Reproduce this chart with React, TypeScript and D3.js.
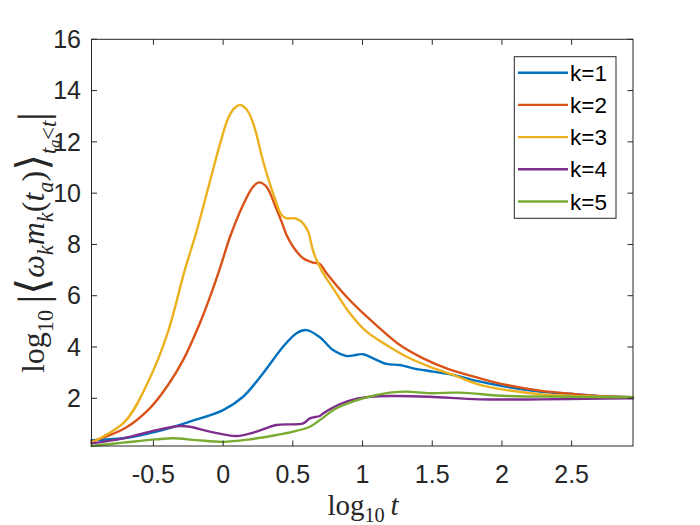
import * as d3 from 'd3'

// axis setup
const xDomain: [number, number] = [-0.944, 2.94]
const yDomain: [number, number] = [0.14, 16]
const xTicks = [-0.5, 0, 0.5, 1, 1.5, 2, 2.5]
const yTicks = [2, 4, 6, 8, 10, 12, 14, 16]

const seriesNames = ['k=1', 'k=2', 'k=3', 'k=4', 'k=5']
const seriesColors = ['#0072BD', '#D95319', '#EDB120', '#7E2F8E', '#77AC30']

type Pt = [number, number]

const k1: Pt[] = [
  [-0.944, 0.37], [-0.717, 0.44], [-0.478, 0.7], [-0.239, 1.09], [0.0, 1.54],
  [0.143, 2.06], [0.287, 2.98], [0.43, 4.01], [0.527, 4.54], [0.598, 4.66],
  [0.694, 4.38], [0.789, 3.88], [0.885, 3.65], [0.96, 3.7], [1.004, 3.72],
  [1.076, 3.56], [1.172, 3.34], [1.268, 3.3], [1.363, 3.17], [1.507, 3.04],
  [1.65, 2.91], [1.793, 2.71], [2.033, 2.45], [2.272, 2.26], [2.511, 2.17],
  [2.72, 2.08], [2.94, 2.04],
]

const k2: Pt[] = [
  [-0.944, 0.31], [-0.705, 0.83], [-0.526, 1.61], [-0.395, 2.52], [-0.287, 3.49],
  [-0.167, 4.93], [-0.072, 6.29], [-0.004, 7.39], [0.048, 8.27], [0.143, 9.54],
  [0.215, 10.25], [0.258, 10.42], [0.311, 10.25], [0.371, 9.54], [0.419, 8.89],
  [0.455, 8.37], [0.502, 7.91], [0.574, 7.46], [0.646, 7.29], [0.694, 7.24],
  [0.742, 6.88], [0.885, 5.96], [1.004, 5.32], [1.124, 4.73], [1.268, 4.08],
  [1.435, 3.56], [1.603, 3.17], [1.842, 2.78], [2.033, 2.52], [2.272, 2.3],
  [2.511, 2.17], [2.72, 2.08], [2.94, 2.04],
]

const k3: Pt[] = [
  [-0.944, 0.27], [-0.705, 1.09], [-0.526, 2.78], [-0.395, 4.6], [-0.275, 7.0],
  [-0.191, 8.5], [-0.095, 10.45], [-0.024, 11.88], [0.036, 12.92], [0.084, 13.33],
  [0.125, 13.44], [0.179, 13.18], [0.227, 12.53], [0.275, 11.49], [0.323, 10.58],
  [0.371, 9.8], [0.419, 9.15], [0.455, 9.02], [0.514, 9.02], [0.562, 8.89],
  [0.61, 8.5], [0.64, 7.85], [0.67, 7.39], [0.717, 6.88], [0.789, 6.29],
  [0.909, 5.32], [1.029, 4.6], [1.172, 4.08], [1.316, 3.62], [1.483, 3.23],
  [1.65, 2.91], [1.842, 2.52], [2.033, 2.32], [2.272, 2.16], [2.511, 2.09],
  [2.94, 2.04],
]

const k4: Pt[] = [
  [-0.944, 0.24], [-0.717, 0.44], [-0.478, 0.76], [-0.311, 0.92], [-0.239, 0.89],
  [-0.096, 0.7], [0.096, 0.53], [0.24, 0.7], [0.383, 0.96], [0.574, 1.02],
  [0.622, 1.22], [0.694, 1.31], [0.717, 1.41], [0.885, 1.87], [1.052, 2.06],
  [1.244, 2.09], [1.483, 2.06], [1.842, 1.96], [2.272, 1.96], [2.6, 1.98], [2.94, 2.0],
]

const k5: Pt[] = [
  [-0.944, 0.14], [-0.717, 0.27], [-0.478, 0.4], [-0.359, 0.44], [-0.191, 0.37],
  [0.0, 0.3], [0.192, 0.4], [0.383, 0.57], [0.502, 0.7], [0.622, 0.89],
  [0.694, 1.15], [0.813, 1.61], [1.004, 2.0], [1.196, 2.22], [1.316, 2.26],
  [1.483, 2.2], [1.698, 2.22], [2.033, 2.09], [2.511, 2.06], [2.94, 2.04],
]

const seriesData = [k1, k2, k3, k4, k5]

const W = 700
const H = 525
const box = { left: 91.5, right: 633, top: 39.3, bottom: 446 }

const axisColor = '#262626'
const sansFont = '"Liberation Sans", Arial, Helvetica, sans-serif'
const mathFont = '"Liberation Serif", "DejaVu Serif", serif'

type Seg = { t: string; it?: boolean; size?: number; shift?: number }

// y label pieces: log10 |<w_k m_k(t_a)>_{t_a<t}|
const yLabelSegs: Seg[] = [
  { t: 'log' },
  { t: '10', size: 0.7, shift: 0.28 },
  { t: '\u2009' },
  { t: '|', size: 1.35, shift: 0.08 },
  { t: '\u27E8', size: 1.35, shift: 0.08 },
  { t: 'ω', it: true },
  { t: 'k', it: true, size: 0.7, shift: 0.28 },
  { t: 'm', it: true },
  { t: 'k', it: true, size: 0.7, shift: 0.28 },
  { t: '(' },
  { t: 't', it: true },
  { t: 'a', it: true, size: 0.7, shift: 0.28 },
  { t: ')' },
  { t: '\u27E9', size: 1.35, shift: 0.08 },
  { t: 't', it: true, size: 0.7, shift: 0.36 },
  { t: 'a', it: true, size: 0.5, shift: 0.5 },
  { t: '<', size: 0.7, shift: 0.36 },
  { t: 't', it: true, size: 0.7, shift: 0.36 },
  { t: '|', size: 1.35, shift: 0.08 },
]

const xLabelSegs: Seg[] = [
  { t: 'log' },
  { t: '10', size: 0.7, shift: 0.25 },
  { t: '\u2009' },
  { t: 't', it: true },
]

function MathText({ segs, base }: { segs: Seg[]; base: number }) {
  let prev = 0
  return (
    <>
      {segs.map((s, i) => {
        const shift = (s.shift ?? 0) * base
        const dy = shift - prev
        prev = shift
        return (
          <tspan
            key={i}
            dy={dy}
            fontSize={(s.size ?? 1) * base}
            fontStyle={s.it ? 'italic' : 'normal'}
          >
            {s.t}
          </tspan>
        )
      })}
    </>
  )
}

export default function App() {
  const x = d3.scaleLinear().domain(xDomain).range([box.left, box.right])
  const y = d3.scaleLinear().domain(yDomain).range([box.bottom, box.top])

  const line = d3
    .line<Pt>()
    .x((d) => x(d[0]))
    .y((d) => y(d[1]))
    .curve(d3.curveCatmullRom.alpha(0.5))

  const tickLen = 5.5
  const legend = { x: 514.3, y: 56.7, w: 101.7, h: 161.6, row0: 72.7, rowGap: 32.2 }

  return (
    <svg
      width={W}
      height={H}
      viewBox={`0 0 ${W} ${H}`}
      style={{ position: 'absolute', left: 0, top: 0, background: '#fff' }}
    >
      <rect x={0} y={0} width={W} height={H} fill="#fff" />

      <g fill="none" strokeWidth={2.4} strokeLinejoin="round" strokeLinecap="round">
        {seriesData.map((d, i) => (
          <path key={seriesNames[i]} d={line(d) || ''} stroke={seriesColors[i]} />
        ))}
      </g>

      {/* axes box and inward ticks */}
      <g stroke={axisColor} strokeWidth={1}>
        <rect
          x={box.left}
          y={box.top}
          width={box.right - box.left}
          height={box.bottom - box.top}
          fill="none"
        />
        {xTicks.map((t) => (
          <g key={`xt${t}`}>
            <line x1={x(t)} x2={x(t)} y1={box.bottom} y2={box.bottom - tickLen} />
            <line x1={x(t)} x2={x(t)} y1={box.top} y2={box.top + tickLen} />
          </g>
        ))}
        {yTicks.map((t) => (
          <g key={`yt${t}`}>
            <line x1={box.left} x2={box.left + tickLen} y1={y(t)} y2={y(t)} />
            <line x1={box.right} x2={box.right - tickLen} y1={y(t)} y2={y(t)} />
          </g>
        ))}
      </g>

      <g fill={axisColor} fontFamily={sansFont} fontSize={25}>
        {xTicks.map((t) => (
          <text key={`xl${t}`} x={x(t)} y={483} textAnchor="middle">
            {t}
          </text>
        ))}
        {yTicks.map((t) => (
          <text key={`yl${t}`} x={81} y={y(t)} dy="0.35em" textAnchor="end">
            {t}
          </text>
        ))}
      </g>

      {/* axis labels */}
      <text x={363} y={515} textAnchor="middle" fontFamily={mathFont} fill={axisColor} fontSize={29}>
        <MathText segs={xLabelSegs} base={29} />
      </text>
      <text
        transform={`translate(44,${(box.top + box.bottom) / 2}) rotate(-90)`}
        textAnchor="middle"
        fontFamily={mathFont}
        fill={axisColor}
        fontSize={32}
      >
        <MathText segs={yLabelSegs} base={32} />
      </text>

      {/* legend */}
      <g>
        <rect
          x={legend.x}
          y={legend.y}
          width={legend.w}
          height={legend.h}
          fill="#fff"
          stroke={axisColor}
          strokeWidth={1}
        />
        {seriesNames.map((name, i) => {
          const ry = legend.row0 + i * legend.rowGap
          return (
            <g key={name}>
              <line x1={518} x2={568} y1={ry} y2={ry} stroke={seriesColors[i]} strokeWidth={2.4} />
              <text
                x={570}
                y={ry}
                dy="0.36em"
                fontFamily={sansFont}
                fontSize={22.5}
                fill="#000"
              >
                {name}
              </text>
            </g>
          )
        })}
      </g>
    </svg>
  )
}
